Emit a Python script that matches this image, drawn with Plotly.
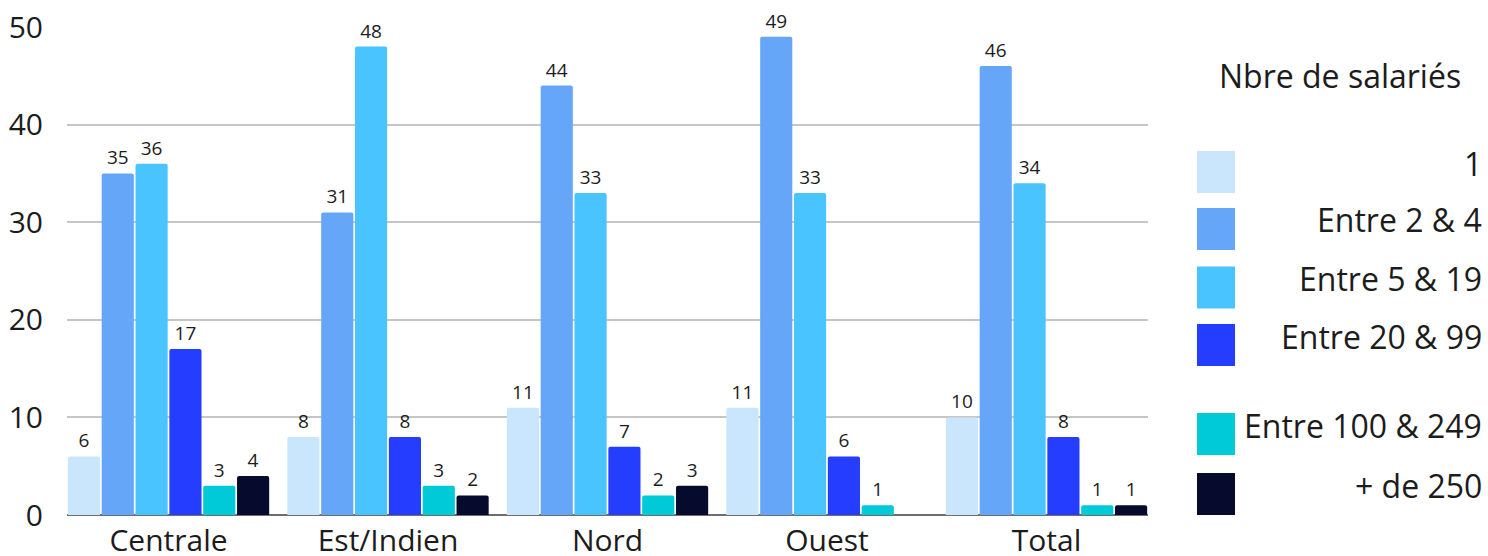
import plotly.graph_objects as go

# Regions and employee-size groups
regions = ["Centrale", "Est/Indien", "Nord", "Ouest", "Total"]
groups = ["1", "Entre 2 & 4", "Entre 5 & 19", "Entre 20 & 99", "Entre 100 & 249", "+ de 250"]

vals_1 = [6, 8, 11, 11, 10]
vals_2_4 = [35, 31, 44, 49, 46]
vals_5_19 = [36, 48, 33, 33, 34]
vals_20_99 = [17, 8, 7, 6, 8]
vals_100_249 = [3, 3, 2, 1, 1]
vals_250 = [4, 2, 3, None, 1]

series = [vals_1, vals_2_4, vals_5_19, vals_20_99, vals_100_249, vals_250]
colors = ["#CAE6FD", "#66A6F9", "#49C4FE", "#243DFE", "#00C9D8", "#060B2E"]

y_ticks = [0, 10, 20, 30, 40, 50]

FONT = "Open Sans"
TEXT = "#1c1c1c"

W, H = 1488, 556
ML, MR, MT, MB = 67, 340, 27, 41
PW, PH = W - ML - MR, H - MT - MB


def px(x):
    return (x - ML) / PW


def py(y):
    return (H - MB - y) / PH


fig = go.Figure()
for name, vals, col in zip(groups, series, colors):
    fig.add_trace(go.Bar(
        x=regions, y=vals, name=name,
        marker=dict(color=col, line=dict(width=0)),
        text=[("" if v is None else str(v)) for v in vals],
        textposition="outside",
        textfont=dict(family=FONT, size=19, color=TEXT),
        constraintext="none",
        cliponaxis=False,
        showlegend=False,
    ))

# Side legend drawn as swatches with right-aligned labels
legend_centers = [172, 229, 287.5, 345, 434, 494]
shapes = []
annotations = []
for name, col, cy in zip(groups, colors, legend_centers):
    shapes.append(dict(
        type="rect", xref="paper", yref="paper",
        x0=px(1197), x1=px(1235), y0=py(cy + 21), y1=py(cy - 21),
        fillcolor=col, line=dict(width=0),
    ))
    annotations.append(dict(
        xref="paper", yref="paper", x=px(1484), y=py(cy - 9),
        text=name, showarrow=False, xanchor="right", yanchor="middle",
        font=dict(family=FONT, size=32, color=TEXT),
    ))
annotations.append(dict(
    xref="paper", yref="paper", x=px(1340), y=py(76),
    text="Nbre de salariés", showarrow=False, xanchor="center", yanchor="middle",
    font=dict(family=FONT, size=32, color=TEXT),
))

grp_frac = 0.925
fig.update_layout(
    width=W, height=H,
    margin=dict(l=ML, r=MR, t=MT, b=MB, autoexpand=False),
    paper_bgcolor="white", plot_bgcolor="white",
    barmode="group", bargap=1 - grp_frac, bargroupgap=0.05,
    barcornerradius=2,
    font=dict(family=FONT, color=TEXT),
    shapes=shapes, annotations=annotations,
    xaxis=dict(
        range=[-grp_frac / 2, 4 + grp_frac / 2],
        showgrid=False, showline=False, ticks="",
        automargin=False,
        ticklabelstandoff=5,
        tickfont=dict(family=FONT, size=30, color=TEXT),
    ),
    yaxis=dict(
        range=[0, 50], tickvals=y_ticks,
        showgrid=True, gridcolor="#c6c6c6", gridwidth=1.5,
        zeroline=True, zerolinecolor="#6e6e6e", zerolinewidth=1.5,
        showline=False, ticks="",
        automargin=False,
        ticklabelstandoff=23,
        tickfont=dict(family=FONT, size=30, color=TEXT),
    ),
)

fig.write_html("out.html")
